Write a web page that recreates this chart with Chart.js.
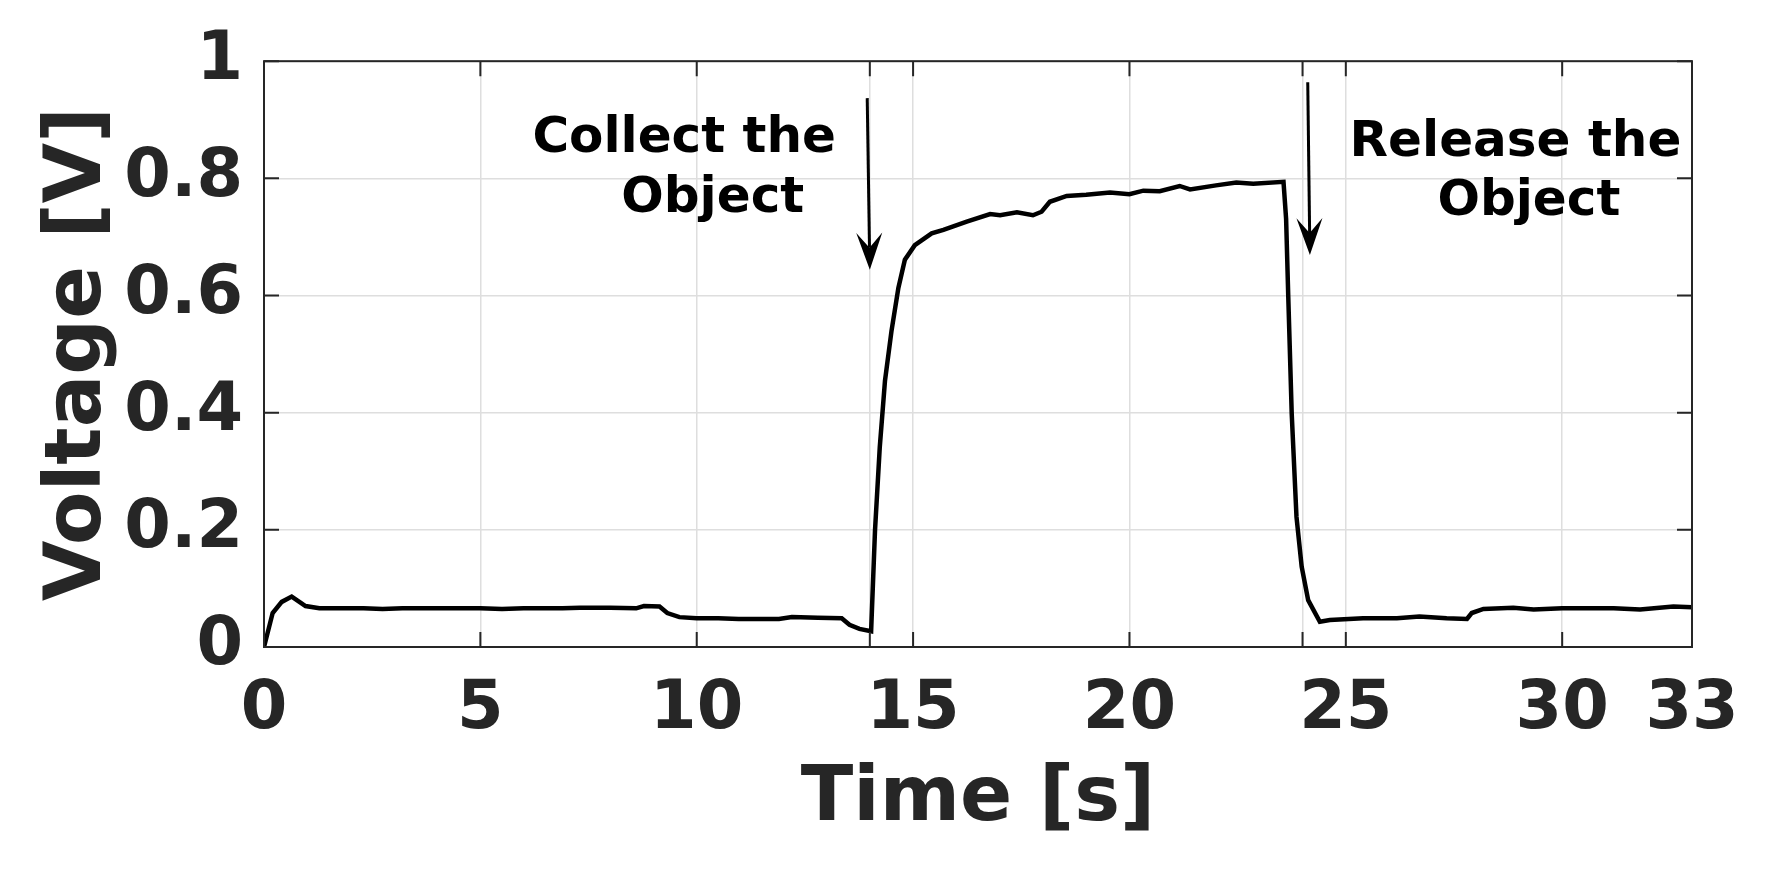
<!DOCTYPE html>
<html>
<head>
<meta charset="utf-8">
<script src="https://cdn.jsdelivr.net/npm/chart.js@4"></script>
<style>
  body { margin: 0; background: #fff; }
  #wrap { width: 1771px; height: 886px; }
</style>
</head>
<body>
<div id="wrap"><canvas id="myChart"></canvas></div>
<script>
// measured trace (time in s, voltage in V)
const timeS = [0, 0.2, 0.41, 0.64, 0.96, 1.28, 1.8, 2.3, 2.74, 3.2, 3.66, 4.3, 5.0, 5.5, 6.0, 6.4, 6.9, 7.3, 8.0, 8.6, 8.78, 9.14, 9.32, 9.6, 10.0, 10.5, 10.97, 11.5, 11.9, 12.2, 12.8, 13.35, 13.53, 13.76, 14.03, 14.12, 14.23, 14.35, 14.5, 14.66, 14.81, 15.04, 15.43, 15.7, 16.24, 16.78, 17.01, 17.4, 17.77, 17.97, 18.16, 18.55, 19.0, 19.55, 20.0, 20.32, 20.7, 21.16, 21.4, 22.0, 22.47, 22.86, 23.56, 23.62, 23.67, 23.75, 23.86, 23.98, 24.13, 24.4, 24.63, 25.4, 26.18, 26.7, 27.33, 27.8, 27.91, 28.18, 28.87, 29.34, 30.0, 30.6, 31.19, 31.8, 32.57, 33.0];
const voltageV = [0, 0.058, 0.077, 0.086, 0.070, 0.066, 0.066, 0.066, 0.065, 0.066, 0.066, 0.066, 0.066, 0.065, 0.066, 0.066, 0.066, 0.067, 0.067, 0.066, 0.070, 0.069, 0.058, 0.051, 0.049, 0.049, 0.048, 0.048, 0.048, 0.051, 0.050, 0.049, 0.038, 0.031, 0.027, 0.199, 0.341, 0.454, 0.539, 0.613, 0.661, 0.686, 0.706, 0.712, 0.726, 0.739, 0.737, 0.742, 0.737, 0.743, 0.760, 0.770, 0.772, 0.776, 0.773, 0.779, 0.778, 0.787, 0.781, 0.788, 0.793, 0.791, 0.794, 0.731, 0.598, 0.398, 0.222, 0.137, 0.080, 0.043, 0.046, 0.049, 0.049, 0.052, 0.049, 0.048, 0.058, 0.065, 0.067, 0.064, 0.066, 0.066, 0.066, 0.064, 0.069, 0.068];

const xTickValues = [0, 5, 10, 14, 15, 20, 24, 25, 30, 33];
const xTickLabels = ['0', '5', '10', '', '15', '20', '', '25', '30', '33'];
const yTickValues = [0, 0.2, 0.4, 0.6, 0.8, 1];
const yTickLabels = ['0', '0.2', '0.4', '0.6', '0.8', '1'];

// annotations: text lines [x, y, text] and arrows [x0, y0, x1, y1]
const noteLines = [
  [9.71, 0.867, 'Collect the'],
  [10.37, 0.765, 'Object'],
  [28.92, 0.861, 'Release the'],
  [29.23, 0.759, 'Object']
];
const arrows = [
  [13.94, 0.937, 14.0, 0.644],
  [24.12, 0.964, 24.17, 0.669]
];

const FONT = "'DejaVu Sans', sans-serif";
const AX = '#262626';

const boxPlugin = {
  id: 'boxPlugin',
  afterDraw(chart) {
    const { ctx, chartArea: a, scales: { x, y } } = chart;
    ctx.save();
    ctx.strokeStyle = AX;
    ctx.lineWidth = 2;
    ctx.strokeRect(a.left, a.top, a.right - a.left, a.bottom - a.top);
    const tl = 15;
    ctx.beginPath();
    xTickValues.forEach(v => {
      const px = x.getPixelForValue(v);
      ctx.moveTo(px, a.bottom); ctx.lineTo(px, a.bottom - tl);
      ctx.moveTo(px, a.top); ctx.lineTo(px, a.top + tl);
    });
    yTickValues.forEach(v => {
      const py = y.getPixelForValue(v);
      ctx.moveTo(a.left, py); ctx.lineTo(a.left + tl, py);
      ctx.moveTo(a.right, py); ctx.lineTo(a.right - tl, py);
    });
    ctx.stroke();

    // annotation text
    ctx.fillStyle = '#000';
    ctx.font = 'bold 50px ' + FONT;
    ctx.textAlign = 'center';
    ctx.textBaseline = 'middle';
    noteLines.forEach(([tx, ty, s]) => {
      ctx.fillText(s, x.getPixelForValue(tx), y.getPixelForValue(ty));
    });

    // arrows
    arrows.forEach(([x0, y0, x1, y1]) => {
      const ax = x.getPixelForValue(x0), ay = y.getPixelForValue(y0);
      const bx = x.getPixelForValue(x1), by = y.getPixelForValue(y1);
      const len = Math.hypot(bx - ax, by - ay);
      const ux = (bx - ax) / len, uy = (by - ay) / len;
      const L = 37, W = 13, N = 22;
      ctx.strokeStyle = '#000';
      ctx.lineWidth = 3;
      ctx.beginPath();
      ctx.moveTo(ax, ay);
      ctx.lineTo(bx - ux * N, by - uy * N);
      ctx.stroke();
      ctx.fillStyle = '#000';
      ctx.beginPath();
      ctx.moveTo(bx, by);
      ctx.lineTo(bx - ux * L - uy * W, by - uy * L + ux * W);
      ctx.lineTo(bx - ux * N, by - uy * N);
      ctx.lineTo(bx - ux * L + uy * W, by - uy * L - ux * W);
      ctx.closePath();
      ctx.fill();
    });
    ctx.restore();
  }
};

const ctx = document.getElementById('myChart').getContext('2d');

new Chart(ctx, {
  type: 'line',
  data: {
    datasets: [{
      data: timeS.map((t, i) => ({ x: t, y: voltageV[i] })),
      borderColor: '#000',
      borderWidth: 4.5,
      pointRadius: 0,
      tension: 0,
      fill: false
    }]
  },
  options: {
    responsive: true,
    maintainAspectRatio: false,
    animation: false,
    events: [],
    layout: { padding: { top: 59, right: 79, left: 0, bottom: 0 } },
    plugins: { legend: { display: false }, tooltip: { enabled: false } },
    scales: {
      x: {
        type: 'linear',
        min: 0,
        max: 33,
        afterBuildTicks: s => { s.ticks = xTickValues.map(v => ({ value: v })); },
        afterFit: s => { s.height = 239; },
        grid: { color: '#dedede', lineWidth: 1.5, drawTicks: false },
        border: { display: false },
        ticks: {
          autoSkip: false,
          maxRotation: 0,
          padding: 23,
          color: AX,
          font: { family: FONT, size: 67, weight: 'bold' },
          callback: (v) => xTickLabels[xTickValues.indexOf(v)]
        },
        title: {
          display: true,
          text: 'Time [s]',
          color: AX,
          font: { family: FONT, size: 77, weight: 'bold' },
          padding: { top: 0, bottom: 40 }
        }
      },
      y: {
        min: 0,
        max: 1,
        afterBuildTicks: s => { s.ticks = yTickValues.map(v => ({ value: v })); },
        afterFit: s => { s.width = 264; },
        grid: { color: '#dedede', lineWidth: 1.5, drawTicks: false },
        border: { display: false },
        ticks: {
          padding: 21,
          color: AX,
          font: { family: FONT, size: 67, weight: 'bold' },
          callback: (v) => yTickLabels[yTickValues.indexOf(v)]
        },
        title: {
          display: true,
          text: 'Voltage [V]',
          color: AX,
          font: { family: FONT, size: 78, weight: 'bold' },
          padding: { top: 33, bottom: 0 }
        }
      }
    }
  },
  plugins: [boxPlugin]
});
</script>
</body>
</html>
